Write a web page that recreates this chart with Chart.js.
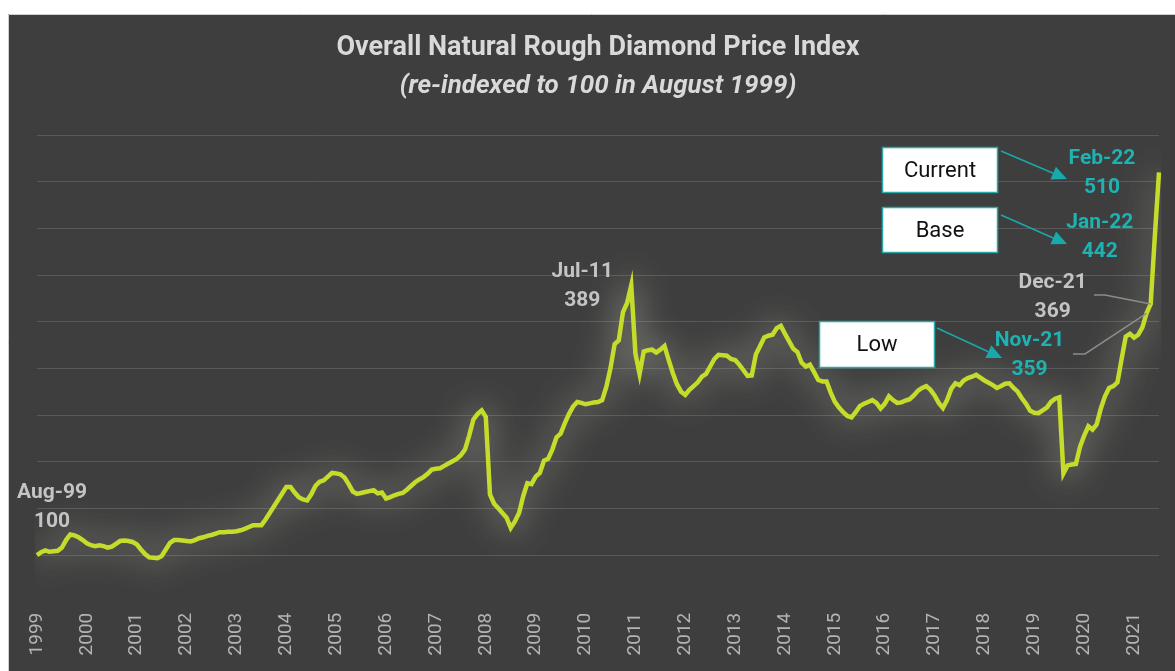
<!DOCTYPE html>
<html>
<head>
<meta charset="utf-8">
<script src="https://cdn.jsdelivr.net/npm/chart.js@4.4.1/dist/chart.umd.min.js"></script>
<style>
  html, body { margin: 0; padding: 0; background: #fff; }
  #wrap { width: 1175px; height: 671px; }
</style>
</head>
<body>
<div id="wrap"><canvas id="indiceChart" width="1175" height="671"></canvas></div>
<script>
// ================================================
//  Índice de preço do diamante bruto (Aug-99 = 100)
// ================================================

const MESES = ['Jan', 'Feb', 'Mar', 'Apr', 'May', 'Jun', 'Jul', 'Aug', 'Sep', 'Oct', 'Nov', 'Dec'];
const ANOS_EIXO = ['1999', '2000', '2001', '2002', '2003', '2004', '2005', '2006', '2007', '2008', '2009',
                   '2010', '2011', '2012', '2013', '2014', '2015', '2016', '2017', '2018', '2019', '2020', '2021'];

// valores mensais, uma linha por ano (Ago -> Jul)
const VALORES = [
    100, 103, 105, 103.5, 104, 104.5, 108, 116, 122, 121, 119, 116,
    112.5, 110.5, 109.5, 110.5, 109.5, 108, 109, 112, 115, 115.5, 115, 114,
    111.5, 106, 101, 97.5, 97, 96.5, 99, 106, 113, 116, 116, 115.5,
    115, 114.5, 116, 118, 119, 120.5, 121.5, 123, 124.5, 124.5, 125, 125,
    125.5, 126.5, 128, 130, 132, 132, 132, 138, 145, 152, 159, 166,
    173, 173, 167, 162, 159.5, 158.5, 165, 174, 178.5, 180, 184, 188,
    187.5, 186.5, 183, 176, 168, 165.5, 166.5, 167.5, 168.5, 169.5, 166, 167,
    160.5, 162, 164, 165.5, 166.5, 170, 174, 178, 181, 183.5, 187, 191.5,
    192.5, 193, 195.5, 198, 200.5, 203, 207, 213, 228, 245, 251, 255,
    248, 165, 155, 150, 145, 140, 129, 136, 145, 163, 177, 176,
    184, 188, 201, 203, 213, 226, 230, 241, 251, 259, 264, 263,
    261.5, 262.5, 263.5, 264, 266, 280, 300, 326, 330, 360, 370, 389,
    316, 294, 318, 319.5, 320, 317, 320, 324, 309, 295, 283, 275,
    271.5, 277, 281, 285, 291, 294, 302, 310, 314.5, 314, 313.5, 310,
    309, 304, 298, 292, 292.5, 315, 324, 333, 335, 336, 343, 345.5,
    337, 329, 321, 317.5, 306, 302, 304, 296, 287.5, 286, 286, 274,
    264, 258, 253, 249, 247.5, 253, 259.5, 262, 264, 266, 263, 257,
    262, 270, 266, 263, 263.5, 265.5, 267, 271, 276, 279, 281, 277,
    271, 263, 257.5, 266, 278, 284, 282, 287, 289.5, 291, 293, 290,
    287, 284.5, 282, 279, 281, 283.5, 284, 279, 275, 268, 262, 254.5,
    252.5, 252, 255, 258, 264, 267.5, 269, 187.5, 196, 197, 197.5, 216,
    228, 238, 234.5, 240, 257, 270, 279, 281, 285, 310, 334, 337,
    333, 336, 344, 359, 369, 442, 510
];

// categorias: Aug-99 ... Feb-22
const CATEGORIAS = VALORES.map((_, i) => {
    const m = (7 + i) % 12;
    const a = 99 + Math.floor((7 + i) / 12);
    return `${MESES[m]}-${String(a % 100).padStart(2, '0')}`;
});

// pontos anotados (índice da categoria)
const MARCOS = [
    { idx: 0,   cor: '#c4c4c4', dx: 15,   dy: -62 },
    { idx: 143, cor: '#c4c4c4', dx: -49,  dy: -14 },
    { idx: 270, cor: '#1db3b3', dx: -57,  dy: -14 },
    { idx: 269, cor: '#1db3b3', dx: -55,  dy: -13 },
    { idx: 268, cor: '#c4c4c4', dx: -98,  dy: -21 },
    { idx: 267, cor: '#1db3b3', dx: -117, dy: 27 }
];

const CAIXAS = [
    { texto: 'Current', x: 882, y: 147, w: 116, h: 46, seta: [1001, 151, 1067, 179] },
    { texto: 'Base',    x: 882, y: 207, w: 116, h: 46, seta: [1001, 215, 1067, 244] },
    { texto: 'Low',     x: 819, y: 321, w: 116, h: 47, seta: [937, 328, 1002, 358] }
];

// linhas-guia cinza: início do rótulo -> ponto
const GUIAS = [
    { idx: 268, x0: 1094, x1: 1105, y: 295 },
    { idx: 267, x0: 1073, x1: 1085, y: 354 }
];

// ------------------------------------------------
// Plugins
// ------------------------------------------------
const fundoCaixa = {
    id: 'fundoCaixa',
    beforeDraw(chart) {
        const ctx = chart.ctx;
        ctx.save();
        ctx.fillStyle = '#3e3e3e';
        ctx.fillRect(8, 14, chart.width - 8, chart.height - 14);
        ctx.strokeStyle = '#d0d0d0';
        ctx.lineWidth = 1;
        ctx.beginPath();
        ctx.moveTo(8.5, chart.height);
        ctx.lineTo(8.5, 14.5);
        ctx.lineTo(chart.width, 14.5);
        ctx.stroke();
        ctx.restore();
    }
};

const brilho = {
    id: 'brilho',
    beforeDatasetDraw(chart) {
        const ctx = chart.ctx;
        ctx.save();
        ctx.shadowColor = 'rgba(215,215,200,0.95)';
        ctx.shadowBlur = 34;
    },
    afterDatasetDraw(chart) {
        chart.ctx.restore();
    }
};

function seta(ctx, x0, y0, x1, y1, cor) {
    const ang = Math.atan2(y1 - y0, x1 - x0);
    const L = 15, W = 7;
    const bx = x1 - L * Math.cos(ang), by = y1 - L * Math.sin(ang);
    ctx.strokeStyle = cor;
    ctx.fillStyle = cor;
    ctx.lineWidth = 1.6;
    ctx.beginPath();
    ctx.moveTo(x0, y0);
    ctx.lineTo(bx, by);
    ctx.stroke();
    ctx.beginPath();
    ctx.moveTo(x1, y1);
    ctx.lineTo(bx + W * Math.sin(ang), by - W * Math.cos(ang));
    ctx.lineTo(bx - W * Math.sin(ang), by + W * Math.cos(ang));
    ctx.closePath();
    ctx.fill();
}

const anotacoes = {
    id: 'anotacoes',
    afterDraw(chart) {
        const ctx = chart.ctx;
        const sx = chart.scales.x, sy = chart.scales.y;
        ctx.save();

        // linhas-guia
        ctx.strokeStyle = '#8c8c8c';
        ctx.lineWidth = 1.5;
        GUIAS.forEach(g => {
            ctx.beginPath();
            ctx.moveTo(g.x0, g.y);
            ctx.lineTo(g.x1, g.y);
            ctx.lineTo(sx.getPixelForValue(g.idx), sy.getPixelForValue(VALORES[g.idx]));
            ctx.stroke();
        });

        // rótulos data / valor
        ctx.font = 'bold 21px Roboto';
        ctx.textAlign = 'center';
        ctx.textBaseline = 'middle';
        MARCOS.forEach(m => {
            const px = sx.getPixelForValue(m.idx) + m.dx;
            const py = sy.getPixelForValue(VALORES[m.idx]) + m.dy;
            ctx.fillStyle = m.cor;
            ctx.fillText(CATEGORIAS[m.idx], px, py);
            ctx.fillText(String(VALORES[m.idx]), px, py + 29);
        });

        // caixas e setas
        CAIXAS.forEach(c => {
            ctx.fillStyle = '#ffffff';
            ctx.fillRect(c.x, c.y, c.w, c.h);
            ctx.strokeStyle = '#2aa9a9';
            ctx.lineWidth = 1.5;
            ctx.strokeRect(c.x + 0.5, c.y + 0.5, c.w - 1, c.h - 1);
            ctx.fillStyle = '#111';
            ctx.font = '22px Roboto';
            ctx.fillText(c.texto, c.x + c.w / 2, c.y + c.h / 2 + 1);
            seta(ctx, ...c.seta, '#1aa9aa');
        });
        ctx.restore();
    }
};

// ------------------------------------------------
// Gráfico
// ------------------------------------------------
Chart.defaults.font.family = 'Roboto';

new Chart(document.getElementById('indiceChart').getContext('2d'), {
    type: 'line',
    data: {
        labels: CATEGORIAS,
        datasets: [{
            label: 'Índice',
            data: VALORES,
            borderColor: '#c6dc2b',
            borderWidth: 4.5,
            pointRadius: 0,
            tension: 0,
            fill: false
        }]
    },
    options: {
        responsive: false,
        animation: false,
        layout: { padding: { left: 37, right: 16, top: 0, bottom: 0 } },
        plugins: {
            legend: { display: false },
            tooltip: { enabled: false },
            title: {
                display: true,
                text: 'Overall Natural Rough Diamond Price Index',
                color: '#d9d9d9',
                font: { size: 27, weight: 'bold' },
                padding: { top: 32, bottom: 6 }
            },
            subtitle: {
                display: true,
                text: '(re-indexed to 100 in August 1999)',
                color: '#d9d9d9',
                font: { size: 26, weight: 'bold', style: 'italic' },
                padding: { top: 0, bottom: 33.4 }
            }
        },
        scales: {
            x: {
                grid: { display: false, drawTicks: false },
                border: { display: false },
                ticks: {
                    autoSkip: false,
                    minRotation: 90,
                    maxRotation: 90,
                    color: '#b4b4b4',
                    font: { size: 19 },
                    padding: 11,
                    callback: (v, i) => (i % 12 === 0 ? ANOS_EIXO[i / 12] : '')
                },
                afterFit(scale) {
                    scale.height = 69.3;
                    scale.paddingLeft = 0;
                    scale.paddingRight = 0;
                }
            },
            y: {
                min: 50,
                max: 550,
                border: { display: false },
                grid: {
                    color: ctx => (ctx.tick.value === 50 ? 'rgba(0,0,0,0)' : '#595959'),
                    lineWidth: 1,
                    drawTicks: false
                },
                ticks: { display: false, stepSize: 50 }
            }
        }
    },
    plugins: [fundoCaixa, brilho, anotacoes]
});
</script>
</body>
</html>
